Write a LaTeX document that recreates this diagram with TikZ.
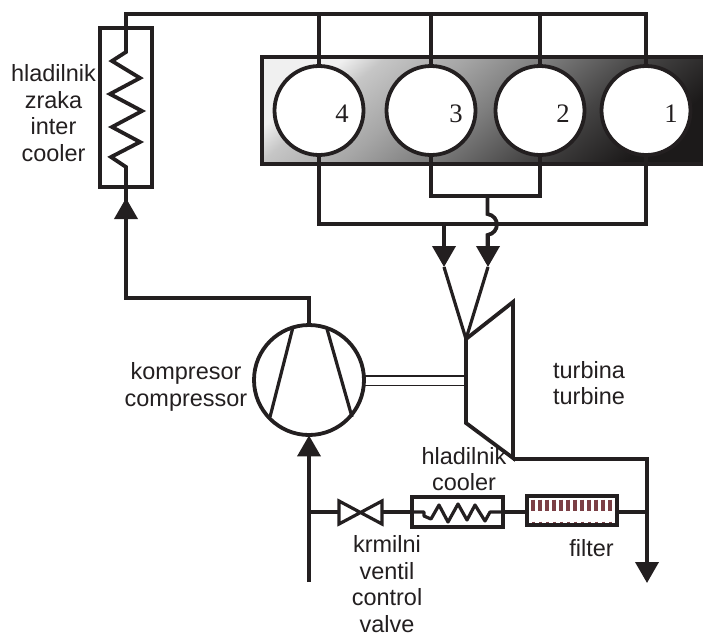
\documentclass[tikz,border=0pt]{standalone}
\usepackage{fontspec}
\setmainfont{Liberation Sans}
\newfontfamily\numfont{Liberation Serif}
\usetikzlibrary{arrows.meta}
\definecolor{ink}{HTML}{231F20}
\definecolor{filt}{HTML}{7B3F45}
\definecolor{gA}{HTML}{F0F0F0}
\definecolor{gB}{HTML}{C6C6C6}
\definecolor{gC}{HTML}{A6A6A6}
\definecolor{gD}{HTML}{7E7E7E}
\definecolor{gE}{HTML}{454444}
\definecolor{gF}{HTML}{1C1A1A}
\pgfdeclareverticalshading{blockshade}{100bp}{color(0bp)=(gF);color(25bp)=(gF);color(37.5bp)=(gE);color(50bp)=(gD);color(60bp)=(gC);color(70bp)=(gB);color(75bp)=(gA);color(100bp)=(gA)}
\def\u{0.75pt}
\tikzset{
  wire/.style={draw=ink,line width=3.8*\u,line join=miter,line cap=butt},
  thinwire/.style={draw=ink,line width=3.2*\u,line join=round},
  flow/.style={wire,-{Triangle[length=21*\u,width=23*\u,inset=0pt]}},
  cyl/.style={circle,draw=ink,fill=white,line width=3.8*\u,minimum size=89*\u,inner sep=0pt},
  boxn/.style={rectangle,draw=ink,fill=none,line width=3.8*\u,inner sep=0pt},
  lab/.style={font=\fontsize{17.6pt}{20pt}\selectfont,align=center,text=ink,inner sep=0pt},
  num/.style={font=\numfont\fontsize{20pt}{22pt}\selectfont,text=ink,inner sep=0pt},
  tick/.style={draw=filt,line width=3.6*\u},
}
\begin{document}
\begin{tikzpicture}[x=0.75pt,y=-0.75pt]
\useasboundingbox (0,0) rectangle (703,637);
% engine block
\shade[shading=blockshade,shading angle=40] (262,57) rectangle (706,164);
\draw[wire] (706,57) -- (262,57) -- (262,164) -- (706,164);
% intake manifold
\coordinate (top0) at (126,14);
\coordinate (top1) at (646,14);
\node[cyl] (c4) at (319,110.5) {};
\node[cyl] (c3) at (431,110.5) {};
\node[cyl] (c2) at (540,110.5) {};
\node[cyl] (c1) at (646,110.5) {};
\node[num] (n4) at (342,114) {4};
\node[num] (n3) at (456,114) {3};
\node[num] (n2) at (563,114) {2};
\node[num] (n1) at (671,114) {1};
\draw[wire] (top0) -- (top1) -- (c1.north);
\draw[wire] (c4.north) -- (c4.north |- top0);
\draw[wire] (c3.north) -- (c3.north |- top0);
\draw[wire] (c2.north) -- (c2.north |- top0);
% intercooler
\node[boxn,minimum width=52*\u,minimum height=159*\u] (ic) at (126,107.5) {};
\coordinate (icin) at (126,167);
\draw[wire] (126,12.1) -- (126,52)
  -- (112,61) -- (140,78) -- (110,94) -- (142,111) -- (112,127) -- (140,142) -- (111,157) -- (icin) -- (ic.south);
% compressor
\node[cyl,minimum size=110*\u] (comp) at (309,380) {};
\coordinate (b1a) at (293,327); \coordinate (b1b) at (270,417);
\coordinate (b2a) at (327,329); \coordinate (b2b) at (352,417);
\draw[thinwire] (b1a) -- (b1b);
\draw[thinwire] (b2a) -- (b2b);
\coordinate (up) at (126,298);
\coordinate (icarrow) at (126,198);
\draw[wire] (comp.north) -- (comp.north |- up) -- (up) -- (icarrow);
\draw[flow] (up) -- (icarrow);
\draw[wire] (icarrow) -- (ic.south);
% turbine
\coordinate (t1) at (466,339); \coordinate (t2) at (513,302);
\coordinate (t3) at (513,458); \coordinate (t4) at (466,423);
\draw[wire] (t1) -- (t2) -- (t3) -- (t4) -- cycle;
% shaft
\coordinate (sa) at (365,376); \coordinate (sb) at (465,376);
\coordinate (sc) at (365,385.5); \coordinate (sd) at (465,385.5);
\draw[draw=ink,line width=1.5*\u] (sa) -- (sb);
\draw[draw=ink,line width=1.5*\u] (sc) -- (sd);
% exhaust manifolds
\coordinate (ex1) at (224,224);
\draw[wire] (c4.south) -- (c4.south |- ex1) -- (c1.south |- ex1) -- (c1.south);
\coordinate (ex2) at (0,196);
\draw[wire] (c3.south) -- (c3.south |- ex2) -- (c2.south |- ex2) -- (c2.south);
\coordinate (tipL) at (444,267); \coordinate (tipR) at (488,267);
\draw[flow] (444,224) -- (tipL);
\draw[wire] (487.5,196) -- (487.5,214) .. controls (500,216) and (500,233) .. (487.5,235) -- (487.5,248);
\draw[flow] (488,235) -- (tipR);
\draw[thinwire] (tipL) -- (t1) -- (tipR);
% turbine outlet
\coordinate (out) at (647,459);
\coordinate (outtip) at (647,583);
\draw[flow] (t3 |- out) -- (out) -- (outtip);
% suction line
\coordinate (suck) at (309,582);
\draw[flow] (suck) -- ([yshift=1.5*\u]comp.south);
% lower row
\coordinate (j1) at (309,512);
\coordinate (vL) at (339,512);
\coordinate (vR) at (382,512);
\draw[thinwire,line join=miter] (339,501) -- (382,524) -- (382,501) -- (339,524) -- cycle;
\node[boxn,minimum width=91*\u,minimum height=30*\u] (cool) at (457.5,512) {};
\node[boxn,minimum width=90*\u,minimum height=29*\u] (fil) at (572,510.5) {};
\coordinate (j2) at (647,512);
\draw[wire] (j1) -- (vL);
\draw[wire] (vR) -- (cool.west);
\draw[wire] (cool.east) -- (fil.west |- cool.east);
\draw[wire] (fil.east |- j2) -- (j2);
\draw[thinwire] (cool.west) -- (424,512) -- (424,516) -- (431,519) -- (439,505) -- (448,522) -- (458,504) -- (467,520) -- (475,505) -- (485,521) -- (490,512) -- (cool.east);
% filter element
\foreach \x in {533,540,547,554,561,568,575,582,589,596,603,610}{
  \draw[tick] (\x,499.5) -- (\x,510.5);
  \draw[draw=filt,line width=3*\u] (\x,521.5) -- (\x,526);
}
\draw[draw=ink,line width=2.6*\u] (527,524.5) -- (617,524.5);
% labels
\node[lab] (l1) at (53.5,113) {hladilnik\\zraka\\inter\\cooler};
\node[lab] (l2) at (186,387) {kompresor\\compressor};
\node[lab] (l3) at (589,383) {turbina\\turbine};
\node[lab,font=\fontsize{17.6pt}{19pt}\selectfont] (l4) at (464,469) {hladilnik\\cooler};
\node[lab] (l5) at (591.5,548.5) {filter};
\node[lab] (l6) at (387,584) {krmilni\\ventil\\control\\valve};
\end{tikzpicture}
\end{document}
